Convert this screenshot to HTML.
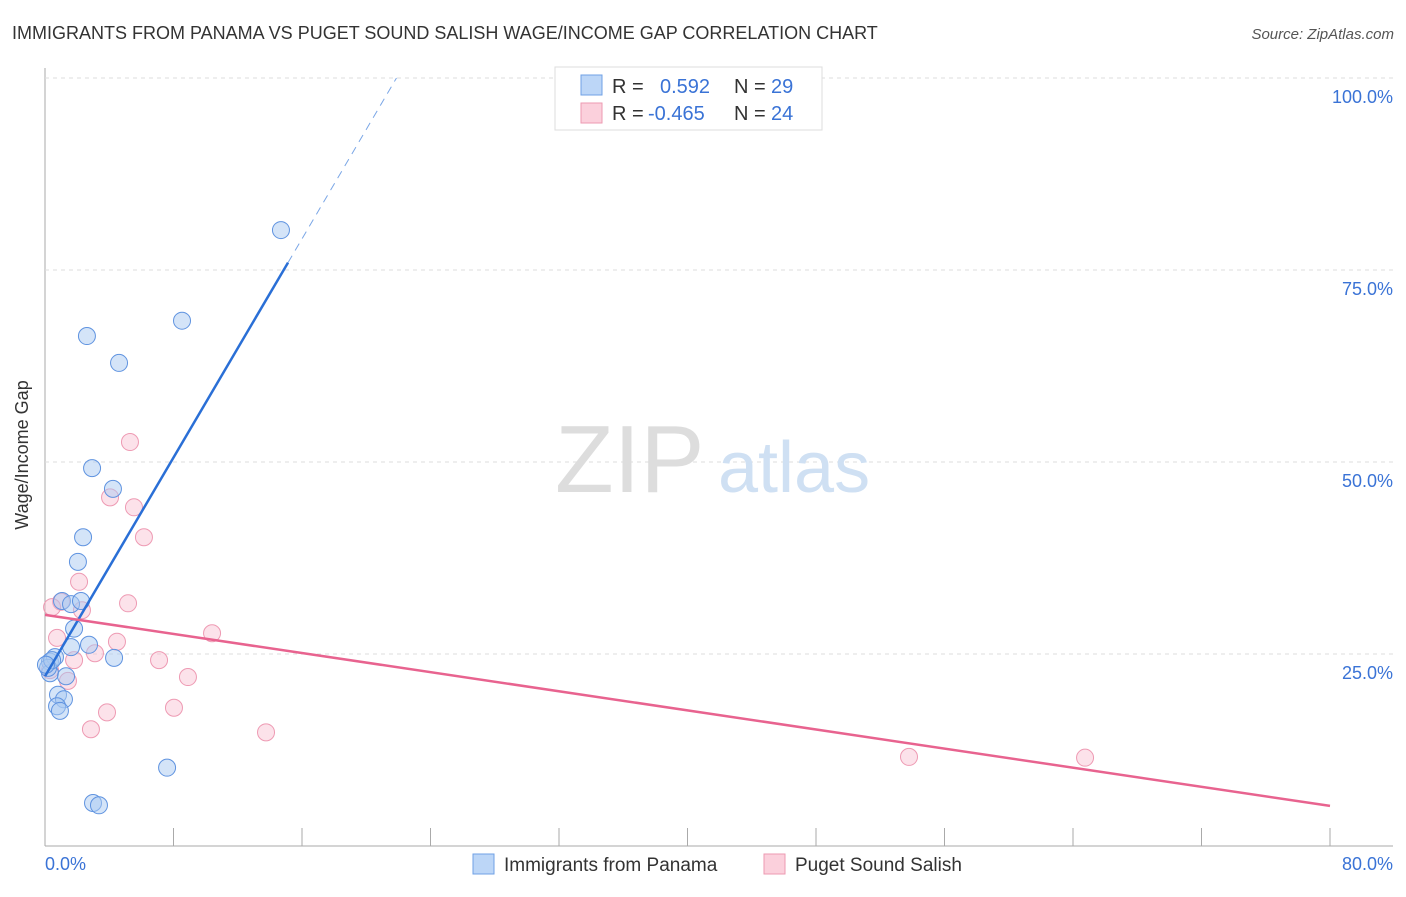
<!DOCTYPE html>
<html><head><meta charset="utf-8"><style>
body{margin:0;background:#fff;font-family:"Liberation Sans",sans-serif;}
svg text{font-family:"Liberation Sans",sans-serif;}
</style></head><body>
<svg width="1406" height="892">
<text x="12" y="39" font-size="18" fill="#333">IMMIGRANTS FROM PANAMA VS PUGET SOUND SALISH WAGE/INCOME GAP CORRELATION CHART</text>
<text x="1394" y="39" font-size="15" fill="#555" font-style="italic" text-anchor="end">Source: ZipAtlas.com</text>
<g id="grid"></g>
<text x="555" y="492" font-size="96" fill="#ddd" font-family="Liberation Serif">ZIP</text>
<text x="718" y="492" font-size="72" fill="#cfe0f3">atlas</text>
<text x="28" y="455" font-size="18" fill="#333" transform="rotate(-90 28 455)" text-anchor="middle">Wage/Income Gap</text>
<g id="points"></g>
<g id="lines"></g>
<rect x="555" y="67" width="267" height="63" fill="#fff" stroke="#ddd"/>
<rect x="581" y="75" width="21" height="20" fill="#bcd6f7" stroke="#6fa0e6"/>
<rect x="581" y="103" width="21" height="20" fill="#fbd0dc" stroke="#ec9ab2"/>
<text x="612" y="93" font-size="20" fill="#333">R = </text><text x="660" y="93" font-size="20" fill="#3a73d6">0.592</text>
<text x="734" y="93" font-size="20" fill="#333">N = </text><text x="771" y="93" font-size="20" fill="#3a73d6">29</text>
<text x="612" y="120" font-size="20" fill="#333">R = </text><text x="648" y="120" font-size="20" fill="#3a73d6">-0.465</text>
<text x="734" y="120" font-size="20" fill="#333">N = </text><text x="771" y="120" font-size="20" fill="#3a73d6">24</text>
<text x="45" y="870" font-size="18" fill="#3a73d6">0.0%</text>
<text x="1393" y="870" font-size="18" fill="#3a73d6" text-anchor="end">80.0%</text>
<rect x="473" y="854" width="21" height="20" fill="#bcd6f7" stroke="#6fa0e6"/>
<text x="504" y="871" font-size="19" fill="#333">Immigrants from Panama</text>
<rect x="764" y="854" width="21" height="20" fill="#fbd0dc" stroke="#ec9ab2"/>
<text x="795" y="871" font-size="19" fill="#333">Puget Sound Salish</text>
</svg>
<script>
const yTicks=[25,50,75,100];
const yTickLabels=["25.0%","50.0%","75.0%","100.0%"];
const xTicks=[0,8,16,24,32,40,48,56,64,72,80];
const blueX=[14.69,8.53,2.61,4.61,2.93,4.23,2.37,2.05,1.06,1.62,2.24,1.81,2.74,1.62,4.30,0.31,0.62,0.31,1.31,0.81,1.18,0.75,0.93,7.60,2.99,3.36,0.19,0.44,0.06];
const blueY=[80.2,68.4,66.4,62.9,49.2,46.5,40.2,37.0,31.9,31.5,31.9,28.3,26.2,25.9,24.5,24.0,24.6,22.5,22.1,19.7,19.1,18.2,17.6,10.2,5.6,5.3,23.2,24.2,23.6];
const pinkX=[5.29,4.05,5.54,6.16,2.12,1.00,0.44,2.30,5.17,0.75,4.48,10.40,1.81,3.11,7.10,8.90,1.43,3.86,8.03,2.86,13.76,53.79,64.75,0.31];
const pinkY=[52.6,45.4,44.1,40.2,34.4,31.8,31.1,30.7,31.6,27.1,26.6,27.7,24.2,25.1,24.2,22.0,21.5,17.4,18.0,15.2,14.8,11.6,11.5,22.9];
const blueTrend=[22.1,3.56]; // intercept, slope
const pinkTrend=[30.1,-0.311];
const NS="http://www.w3.org/2000/svg";
const xs=v=>45+v/80*1285, ys=v=>846-v/100*768;
function mk(tag,attrs,parent){const e=document.createElementNS(NS,tag);for(const k in attrs)e.setAttribute(k,attrs[k]);parent.appendChild(e);return e;}
const grid=document.getElementById('grid');
let ax=mk('line',{x1:45,y1:68,x2:45,y2:846,stroke:'#aaa'},grid);


let bx=mk('line',{x1:45,y1:846,x2:1393,y2:846,stroke:'#aaa'},grid);


yTicks.forEach((t,i)=>{
 let g=mk('line',{x1:45,y1:ys(t),x2:1393,y2:ys(t),stroke:'#ddd','stroke-dasharray':'4,4'},grid);
 
 
 let tx=mk('text',{x:1393,y:ys(t)+25,'font-size':18,fill:'#3a73d6','text-anchor':'end'},grid);
 tx.textContent=yTickLabels[i];
 
 
});
xTicks.forEach(t=>{
 let l=mk('line',{x1:xs(t),y1:828,x2:xs(t),y2:846,stroke:'#aaa'},grid);
 
 
});
const pts=document.getElementById('points');
pinkX.forEach((x,i)=>{
 let c=mk('circle',{cx:xs(x),cy:ys(pinkY[i]),r:8.5,fill:'rgba(248,190,208,0.45)',stroke:'#ee9ab3','stroke-width':1},pts);
 
 
});
blueX.forEach((x,i)=>{
 let c=mk('circle',{cx:xs(x),cy:ys(blueY[i]),r:8.5,fill:'rgba(170,202,242,0.5)',stroke:'#5f93e0','stroke-width':1},pts);
 
 
});
const ln=document.getElementById('lines');
const bEnd=15.13, bTop=(100-blueTrend[0])/blueTrend[1];
let b1=mk('line',{x1:xs(0),y1:ys(blueTrend[0]),x2:xs(bEnd),y2:ys(blueTrend[0]+blueTrend[1]*bEnd),stroke:'#2a6fd6','stroke-width':2.5},ln);


let b2=mk('line',{x1:xs(bEnd),y1:ys(blueTrend[0]+blueTrend[1]*bEnd),x2:xs(bTop),y2:ys(100),stroke:'#7aa6e6','stroke-width':1,'stroke-dasharray':'8,6'},ln);


let p1=mk('line',{x1:xs(0),y1:ys(pinkTrend[0]),x2:xs(80),y2:ys(pinkTrend[0]+pinkTrend[1]*80),stroke:'#e8638f','stroke-width':2.5},ln);


</script>
</body></html>
